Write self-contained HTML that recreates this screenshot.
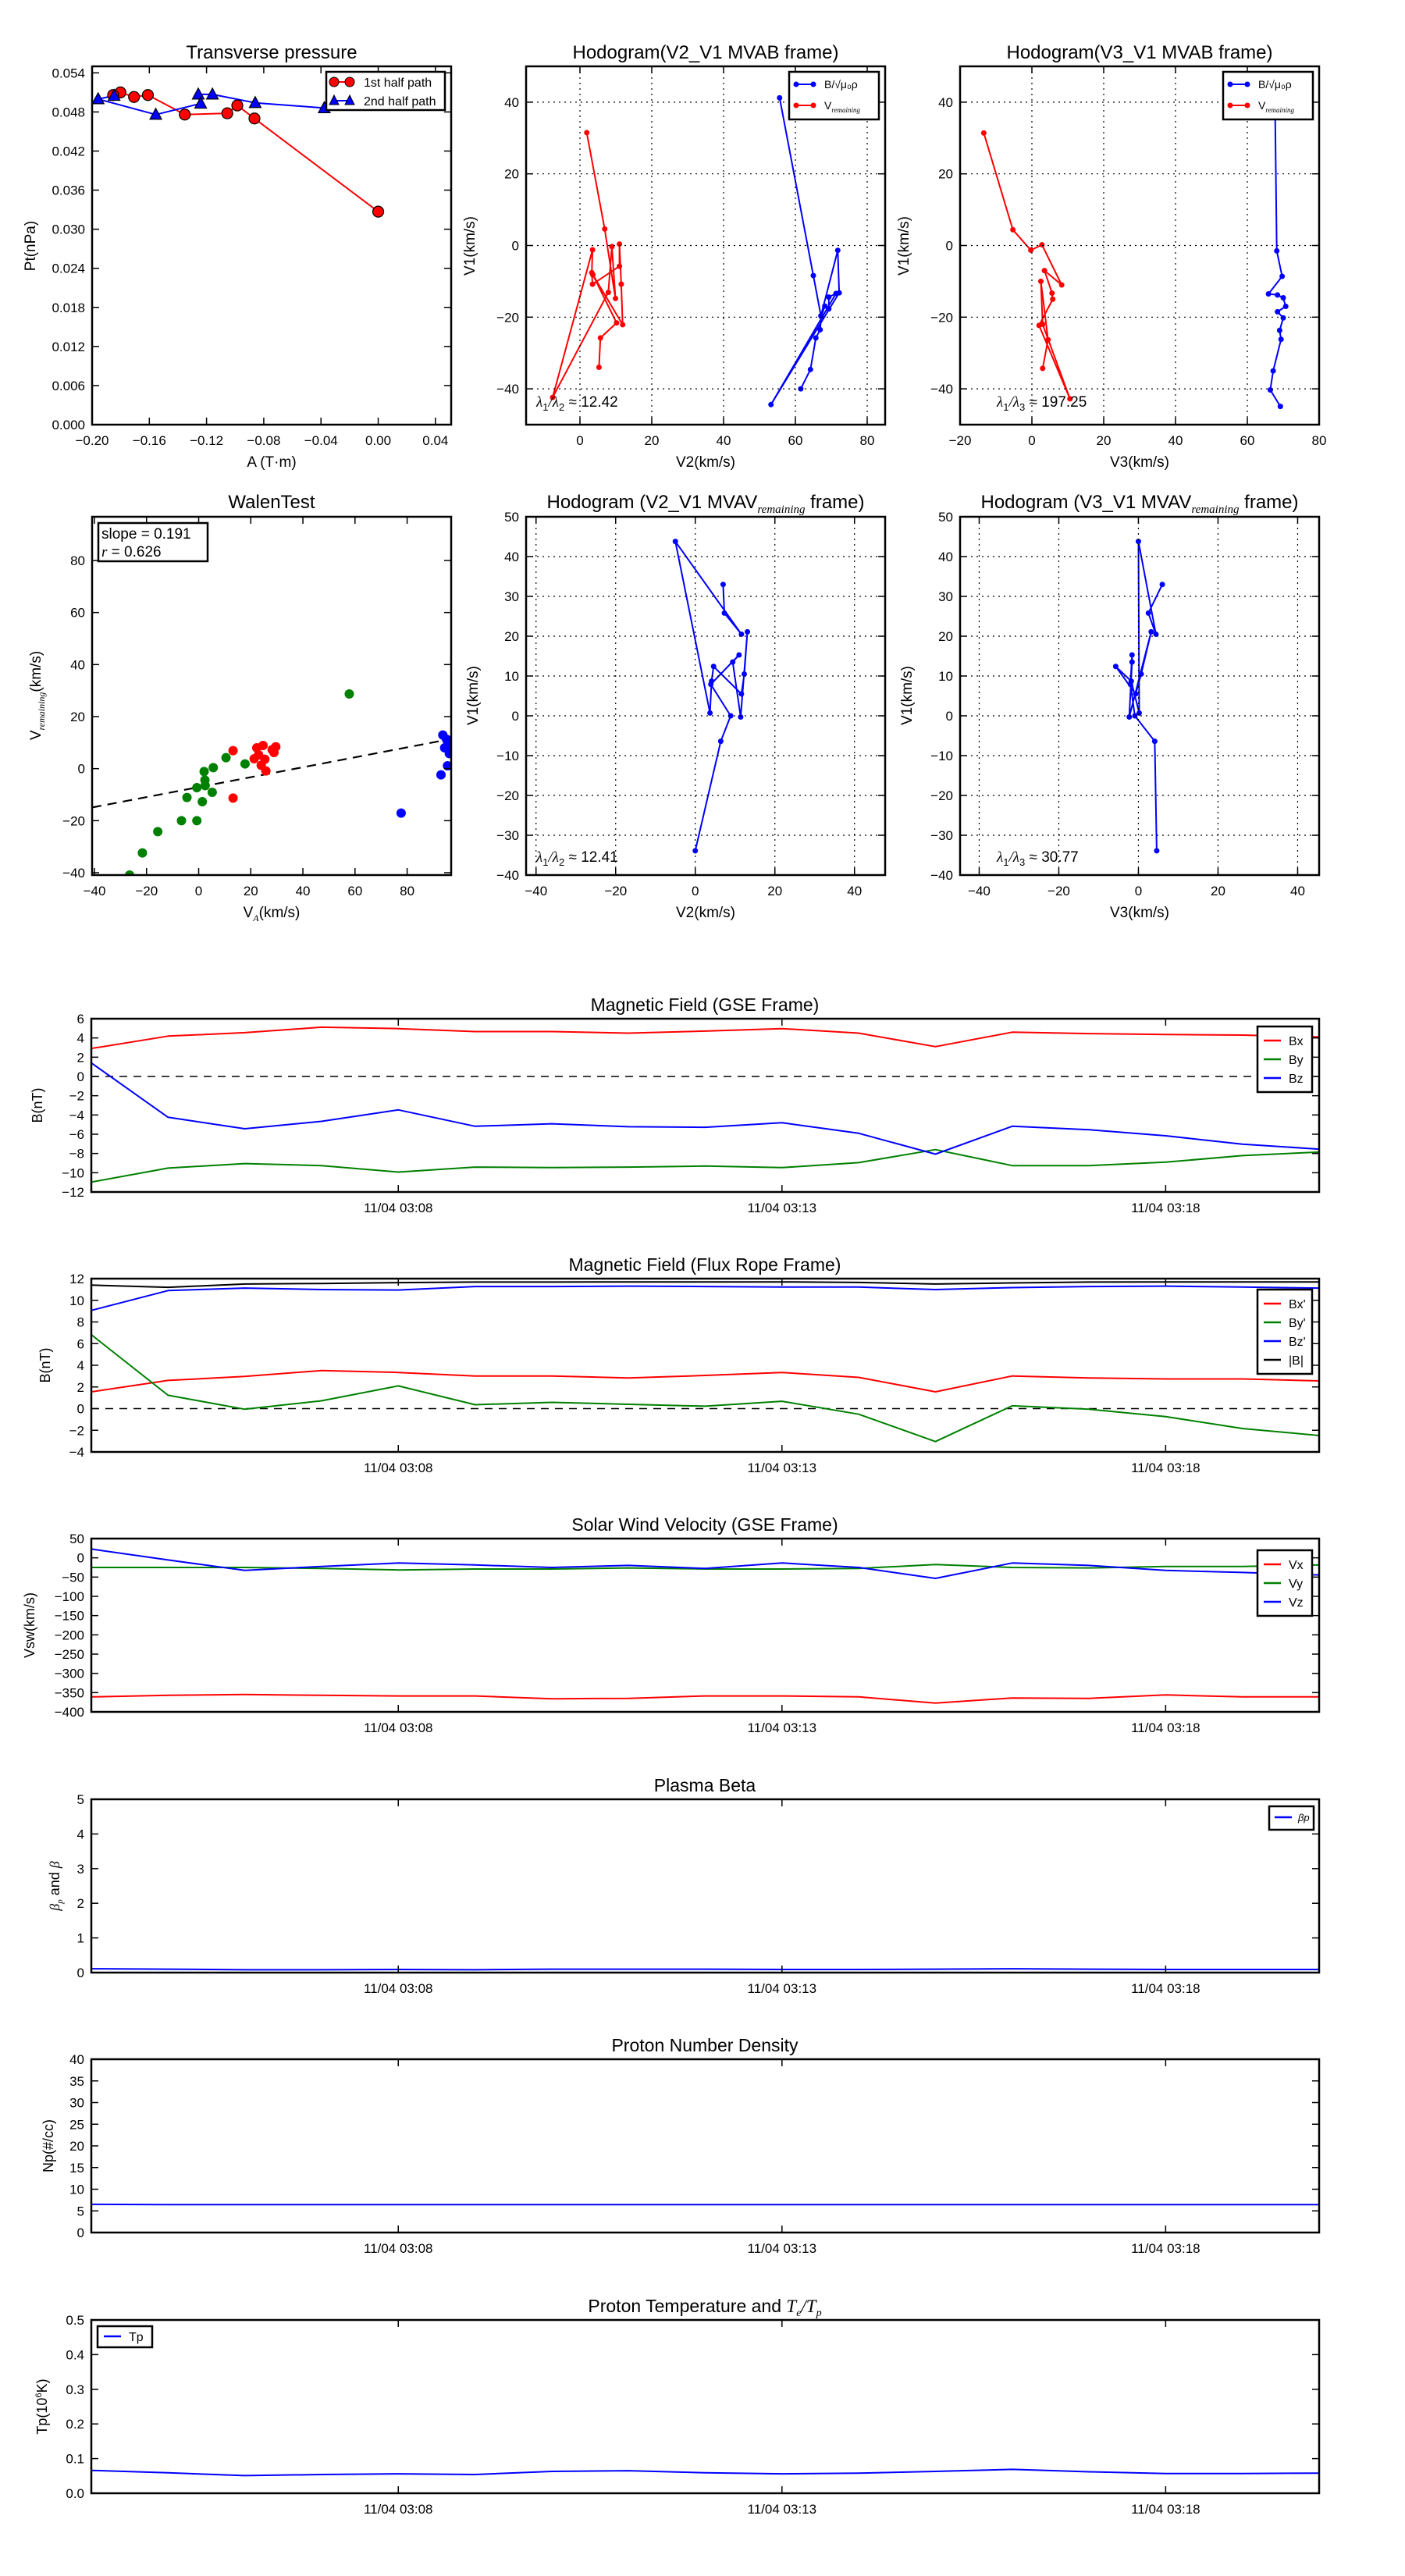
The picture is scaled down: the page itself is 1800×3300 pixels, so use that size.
<!DOCTYPE html>
<html>
<head>
<meta charset="utf-8">
<style>
html,body{margin:0;padding:0;background:#fff;}
svg{display:block;}
text{font-family:"Liberation Sans","DejaVu Sans",sans-serif;fill:#000;}
</style>
</head>
<body>
<svg id="fig" width="1800" height="3300" viewBox="0 0 1800 3300" xmlns="http://www.w3.org/2000/svg">
<rect x="0" y="0" width="1800" height="3300" fill="#fff"/>
</svg>
<script>
// ---------- Transverse pressure data ----------
const tpRedA  = [0, -0.0865, -0.0985, -0.1055, -0.1352, -0.161, -0.1707, -0.1802, -0.1853];
const tpRedPt = [0.0327, 0.0470, 0.0490, 0.0478, 0.0476, 0.0506, 0.0503, 0.0510, 0.0506];
const tpBlueA  = [-0.0377, -0.086, -0.1159, -0.1258, -0.1241, -0.1555, -0.1958, -0.1846];
const tpBluePt = [0.0486, 0.0494, 0.0507, 0.0507, 0.0493, 0.0476, 0.04998, 0.0505];
const tpXTicks = [-0.20, -0.16, -0.12, -0.08, -0.04, 0.00, 0.04];
const tpYTicks = [0, 0.006, 0.012, 0.018, 0.024, 0.030, 0.036, 0.042, 0.048, 0.054];

// ---------- Hodogram MVAB V2-V1 ----------
const h1RedV2 = [1.9, 6.9, 9.9, 8.9, 7.9, -7.6, 3.5, 3.3, 3.5, 11.0, 11.0, 11.5, 11.9, 3.6, 10.2, 5.7, 5.3];
const h1RedV1 = [31.5, 4.6, -14.8, -0.3, -13.1, -42.4, -1.2, -7.6, -10.8, -5.8, 0.4, -10.8, -22.1, -8.2, -21.6, -25.8, -34];
const h1BlueV2 = [55.6, 65.0, 67.1, 71.8, 72.2, 53.2, 71.3, 69.3, 69.3, 68.2, 67.2, 66.9, 65.7, 64.2, 61.5];
const h1BlueV1 = [41.2, -8.4, -19.6, -1.35, -13.2, -44.4, -13.4, -14.4, -17.7, -16.9, -19.8, -23.5, -25.8, -34.6, -40];
// ---------- Hodogram MVAB V3-V1 ----------
const h2RedV3 = [-13.4, -5.3, -0.3, 2.8, 8.3, 3.5, 5.6, 5.8, 2.0, 10.6, 3.0, 2.5, 4.5, 3.0];
const h2RedV1 = [31.4, 4.4, -1.3, 0.2, -11, -7, -13.3, -15, -22.3, -42.8, -22, -10, -26.3, -34.3];
const h2BlueV3 = [67.7, 68.2, 69.7, 65.9, 68.4, 70.0, 70.7, 68.4, 70.0, 69.0, 69.4, 67.2, 66.4, 69.2];
const h2BlueV1 = [41.2, -1.5, -8.6, -13.5, -13.8, -14.6, -17.0, -18.5, -20.2, -23.7, -26.2, -35.0, -40.3, -44.9];
const hXTicks1 = [0, 20, 40, 60, 80];
const hXTicks2 = [-20, 0, 20, 40, 60, 80];
const hYTicks1 = [-40, -20, 0, 20, 40];

// ---------- Walen test ----------
const wGreenVA = [57.8, 10.5, 5.6, 2.1, 2.4, -0.7, 5.2, -4.5, 1.4, 17.8, -6.6, -0.7, -15.7, -21.6, -26.5, 2.5];
const wGreenVr = [28.7, 4.2, 0.4, -1.1, -4.4, -7.3, -9.1, -11.1, -12.7, 1.8, -20, -20, -24.2, -32.4, -40.9, -6.5];
const wRedVA = [13.2, 13.2, 22.3, 24.7, 28.2, 29.6, 23.0, 25.4, 24.0, 25.8, 21.3, 28.9];
const wRedVr = [6.9, -11.3, 8.0, 8.9, 7.3, 8.4, 5.3, 3.6, 1.3, -0.9, 3.8, 6.2];
const wBlueVA = [93.7, 93.0, 95.5, 94.4, 95.5, 96.2, 95.1, 77.7];
const wBlueVr = [12.9, -2.4, 1.1, 8.0, 9.1, 5.8, 11.3, -17.1];
const wSlope = 0.191;
const wIntercept = -7.1;
const wXTicks = [-40, -20, 0, 20, 40, 60, 80];
const wYTicks = [-40, -20, 0, 20, 40, 60, 80];

// ---------- Hodogram MVAV ----------
const h3V2 = [7.0, 7.3, 11.6, -5.0, 3.7, 4.1, 4.6, 11.6, 12.3, 13.1, 11.4, 9.4, 11.0, 3.9, 8.9, 6.4, 0.0];
const h3V1 = [33.0, 25.8, 20.5, 43.8, 0.7, 8.7, 12.4, 5.5, 10.5, 21.1, -0.3, 13.5, 15.3, 7.9, 0.0, -6.4, -33.9];
const h4V3 = [6.0, 2.5, 4.4, 0.0, 0.2, -1.8, -5.7, -0.7, 0.7, 3.2, -2.3, -1.6, -1.6, -2.0, -0.9, 4.1, 4.6];
const h4V1 = [33.0, 25.8, 20.5, 43.8, 0.7, 8.7, 12.4, 5.5, 10.5, 21.1, -0.3, 13.5, 15.3, 7.9, 0.0, -6.4, -33.9];
const h34XTicks = [-40, -20, 0, 20, 40];
const h34YTicks = [-40, -30, -20, -10, 0, 10, 20, 30, 40, 50];

// ---------- Time series ----------
const timeTickIdx = [4, 9, 14];
const timeLabels = ['11/04 03:08', '11/04 03:13', '11/04 03:18'];
const bx = [2.9, 4.19, 4.55, 5.12, 4.97, 4.66, 4.66, 4.5, 4.71, 4.97, 4.5, 3.1, 4.6, 4.45, 4.35, 4.3, 4.1];
const by = [-10.97, -9.52, -9.05, -9.26, -9.93, -9.41, -9.47, -9.41, -9.31, -9.47, -8.95, -7.6, -9.26, -9.26, -8.9, -8.22, -7.86];
const bz = [1.4, -4.24, -5.43, -4.66, -3.47, -5.17, -4.91, -5.22, -5.28, -4.81, -5.9, -8.07, -5.17, -5.53, -6.16, -7.03, -7.55];
const bxp = [1.55, 2.6, 2.97, 3.52, 3.34, 3.01, 3.01, 2.83, 3.06, 3.34, 2.88, 1.55, 3.01, 2.83, 2.74, 2.74, 2.56];
const byp = [6.82, 1.23, -0.06, 0.72, 2.1, 0.36, 0.58, 0.4, 0.22, 0.68, -0.52, -3.04, 0.26, -0.06, -0.74, -1.84, -2.49];
const bzp = [9.07, 10.9, 11.13, 10.99, 10.95, 11.27, 11.27, 11.31, 11.27, 11.22, 11.22, 10.99, 11.17, 11.27, 11.31, 11.22, 11.13];
const btot = [11.4, 11.2, 11.5, 11.55, 11.63, 11.68, 11.68, 11.7, 11.7, 11.7, 11.65, 11.5, 11.6, 11.68, 11.7, 11.7, 11.7];
const vx = [-361, -357, -355, -357, -358.6, -358.6, -366, -365, -358.6, -358.6, -361, -377, -364, -365, -356, -361, -361];
const vy = [-25, -25, -25, -27.6, -31.5, -29, -29, -26.3, -29, -29, -27.6, -17.2, -25, -26.3, -22.4, -22.4, -18.5];
const vz = [22.8, -5.6, -32.8, -22.4, -13.4, -18.5, -25, -19.8, -27.6, -13.4, -25, -53.4, -13.4, -19.8, -32.8, -38, -44.4];
const betaP = [0.11, 0.10, 0.08, 0.08, 0.09, 0.08, 0.10, 0.10, 0.10, 0.09, 0.09, 0.10, 0.11, 0.10, 0.09, 0.09, 0.09];
const npDens = [6.5, 6.45, 6.45, 6.45, 6.45, 6.45, 6.45, 6.45, 6.45, 6.45, 6.45, 6.45, 6.45, 6.45, 6.45, 6.45, 6.45];
const tpTemp = [0.066, 0.059, 0.051, 0.054, 0.056, 0.054, 0.063, 0.065, 0.059, 0.056, 0.058, 0.063, 0.069, 0.062, 0.057, 0.057, 0.058];
const gseTicks = [-12, -10, -8, -6, -4, -2, 0, 2, 4, 6];
const fluxTicks = [-4, -2, 0, 2, 4, 6, 8, 10, 12];
const velTicks = [-400, -350, -300, -250, -200, -150, -100, -50, 0, 50];
const betaTicks = [0, 1, 2, 3, 4, 5];
const densTicks = [0, 5, 10, 15, 20, 25, 30, 35, 40];
const tempTicks = [0, 0.1, 0.2, 0.3, 0.4, 0.5];

const NS = 'http://www.w3.org/2000/svg';
const svg = document.getElementById('fig');
function el(tag, attrs, parent) {
  const e = document.createElementNS(NS, tag);
  for (const k in attrs) e.setAttribute(k, attrs[k]);
  (parent || svg).appendChild(e);
  return e;
}
function txt(s, attrs, parent) { const e = el('text', attrs, parent); e.textContent = s; return e; }
function fmt(v, d) { return v.toFixed(d).replace('-', '\u2212'); }

function axes(name, x0, y0, w, h, xr, yr) {
  const g = el('g', {});
  
  
  const cp = el('clipPath', { id: 'clip-' + name }, g);
  el('rect', { x: x0, y: y0, width: w, height: h }, cp);
  const sx = v => x0 + (v - xr[0]) / (xr[1] - xr[0]) * w;
  const sy = v => y0 + h - (v - yr[0]) / (yr[1] - yr[0]) * h;
  const plot = el('g', { 'clip-path': 'url(#clip-' + name + ')' }, g);
  return { g, plot, sx, sy, x0, y0, w, h };
}
function xTicks(ax, vals, labels, grid, fs) {
  vals.forEach((v, i) => {
    const x = ax.sx(v);
    if (grid) {
      const gl = el('line', { x1: x, x2: x, y1: ax.y0, y2: ax.y0 + ax.h, stroke: '#000', 'stroke-width': 1.2, 'stroke-dasharray': '2,5' }, ax.g);
      
      
    }
    el('line', { x1: x, x2: x, y1: ax.y0 + ax.h, y2: ax.y0 + ax.h - 9, stroke: '#000', 'stroke-width': 1.5 }, ax.g);
    el('line', { x1: x, x2: x, y1: ax.y0, y2: ax.y0 + 9, stroke: '#000', 'stroke-width': 1.5 }, ax.g);
    const t = txt(labels[i], { x: x, y: ax.y0 + ax.h + 26, 'text-anchor': 'middle', 'font-size': fs || 17 }, ax.g);
    
    
  });
}
function yTicks(ax, vals, labels, grid, fs) {
  vals.forEach((v, i) => {
    const y = ax.sy(v);
    if (grid) {
      const gl = el('line', { x1: ax.x0, x2: ax.x0 + ax.w, y1: y, y2: y, stroke: '#000', 'stroke-width': 1.2, 'stroke-dasharray': '2,5' }, ax.g);
      
      
    }
    el('line', { x1: ax.x0, x2: ax.x0 + 9, y1: y, y2: y, stroke: '#000', 'stroke-width': 1.5 }, ax.g);
    el('line', { x1: ax.x0 + ax.w, x2: ax.x0 + ax.w - 9, y1: y, y2: y, stroke: '#000', 'stroke-width': 1.5 }, ax.g);
    const t = txt(labels[i], { x: ax.x0 - 9, y: y + 6, 'text-anchor': 'end', 'font-size': fs || 17 }, ax.g);
    
    
  });
}
function frame(ax) {
  const r = el('rect', { x: ax.x0, y: ax.y0, width: ax.w, height: ax.h, fill: 'none', stroke: '#000', 'stroke-width': 2.5 }, ax.g);
  
  
}
function line(ax, xs, ys, color, width, dash) {
  const pts = xs.map((x, i) => ax.sx(x).toFixed(1) + ',' + ax.sy(ys[i]).toFixed(1)).join(' ');
  const a = { points: pts, fill: 'none', stroke: color, 'stroke-width': width || 2, 'stroke-linejoin': 'round' };
  if (dash) a['stroke-dasharray'] = dash;
  return el('polyline', a, ax.plot);
}
function title(s, x, y, fs) {
  const t = txt(s, { x: x, y: y, 'text-anchor': 'middle', 'font-size': fs || 24 });
  
  
  return t;
}
function ylabel(s, x, y, fs) {
  const t = txt(s, { x: x, y: y, 'text-anchor': 'middle', 'font-size': fs || 19, transform: 'rotate(-90 ' + x + ' ' + y + ')' });
  
  
  return t;
}
function xlabel(s, x, y, fs) {
  const t = txt(s, { x: x, y: y, 'text-anchor': 'middle', 'font-size': fs || 19 });
  
  
  return t;
}
function legendBox(x, y, w, h) {
  const r = el('rect', { x: x, y: y, width: w, height: h, fill: '#fff', stroke: '#000', 'stroke-width': 2.5 });
  
  
}

// ===== Transverse pressure =====
(function () {
  const ax = axes('transverse-pressure-axes', 118, 85, 460, 459, [-0.2, 0.051], [0, 0.055]);
  xTicks(ax, tpXTicks, tpXTicks.map(v => fmt(v, 2)));
  yTicks(ax, tpYTicks, tpYTicks.map(v => fmt(v, 3)));
  const l1 = line(ax, tpRedA, tpRedPt, '#f00', 2);
  
  
  const l2 = line(ax, tpBlueA, tpBluePt, '#00f', 2);
  
  
  tpRedA.forEach((a, i) => {
    const c = el('circle', { cx: ax.sx(a), cy: ax.sy(tpRedPt[i]), r: 7, fill: '#f00', stroke: '#000', 'stroke-width': 1.2 }, ax.plot);
    
    
  });
  tpBlueA.forEach((a, i) => {
    const x = ax.sx(a), y = ax.sy(tpBluePt[i]);
    const p = el('polygon', { points: `${x},${y - 8} ${x - 7.5},${y + 6} ${x + 7.5},${y + 6}`, fill: '#00f', stroke: '#000', 'stroke-width': 1.2 }, ax.plot);
    
    
  });
  frame(ax);
  title('Transverse pressure', 348, 75);
  ylabel('Pt(nPa)', 45, 315);
  xlabel('A (T\u00b7m)', 348, 598);
  legendBox(418, 92, 152, 49);
  el('line', { x1: 428, x2: 448, y1: 105, y2: 105, stroke: '#f00', 'stroke-width': 2 });
  el('circle', { cx: 428, cy: 105, r: 6, fill: '#f00', stroke: '#000', 'stroke-width': 1 });
  el('circle', { cx: 448, cy: 105, r: 6, fill: '#f00', stroke: '#000', 'stroke-width': 1 });
  const t1 = txt('1st half path', { x: 466, y: 111, 'font-size': 16 });
  
  
  el('line', { x1: 428, x2: 448, y1: 129, y2: 129, stroke: '#00f', 'stroke-width': 2 });
  el('polygon', { points: '428,122 422,134 434,134', fill: '#00f', stroke: '#000', 'stroke-width': 1 });
  el('polygon', { points: '448,122 442,134 454,134', fill: '#00f', stroke: '#000', 'stroke-width': 1 });
  const t2 = txt('2nd half path', { x: 466, y: 135, 'font-size': 16 });
  
  
})();

function ratioText(x, y, a, b, val) {
  const t = el('text', { x: x, y: y, 'font-size': 19 });
  
  
  const s1 = el('tspan', { 'font-family': '"Liberation Serif",serif', 'font-style': 'italic' }, t); s1.textContent = '\u03bb';
  const s2 = el('tspan', { 'font-size': 13, dy: 5 }, t); s2.textContent = a;
  const s3 = el('tspan', { dy: -5, 'font-family': '"Liberation Serif",serif', 'font-style': 'italic' }, t); s3.textContent = '/\u03bb';
  const s4 = el('tspan', { 'font-size': 13, dy: 5 }, t); s4.textContent = b;
  const s5 = el('tspan', { dy: -5 }, t); s5.textContent = ' \u2248 ' + val;
}
function pts(ax, xs, ys, color, r, name) {
  xs.forEach((x, i) => {
    const c = el('circle', { cx: ax.sx(x), cy: ax.sy(ys[i]), r: r, fill: color }, ax.plot);
    
    
  });
}
function hodoLegend(x0) {
  legendBox(x0, 92, 115, 61);
  el('line', { x1: x0 + 9, x2: x0 + 31, y1: 108, y2: 108, stroke: '#00f', 'stroke-width': 2 });
  el('circle', { cx: x0 + 9, cy: 108, r: 3.5, fill: '#00f' });
  el('circle', { cx: x0 + 31, cy: 108, r: 3.5, fill: '#00f' });
  const t1 = el('text', { x: x0 + 45, y: 113, 'font-size': 14 });
  
  
  t1.textContent = 'B/\u221a\u03bc\u2080\u03c1';
  el('line', { x1: x0 + 9, x2: x0 + 31, y1: 135, y2: 135, stroke: '#f00', 'stroke-width': 2 });
  el('circle', { cx: x0 + 9, cy: 135, r: 3.5, fill: '#f00' });
  el('circle', { cx: x0 + 31, cy: 135, r: 3.5, fill: '#f00' });
  const t2 = el('text', { x: x0 + 45, y: 140, 'font-size': 14 });
  
  
  const a = el('tspan', {}, t2); a.textContent = 'V';
  const b = el('tspan', { 'font-size': 9, dy: 4, 'font-style': 'italic', 'font-family': '"Liberation Serif",serif' }, t2); b.textContent = 'remaining';
}

// ===== Hodogram V2_V1 MVAB =====
(function () {
  const ax = axes('hodogram-v2-v1-mvab-axes', 674, 85, 460, 459, [-15, 85], [-50, 50]);
  xTicks(ax, hXTicks1, hXTicks1.map(v => fmt(v, 0)), true);
  yTicks(ax, hYTicks1, hYTicks1.map(v => fmt(v, 0)), true);
  const lr = line(ax, h1RedV2, h1RedV1, '#f00', 2);
  
  
  pts(ax, h1RedV2, h1RedV1, '#f00', 3.5, 'v-remaining-point');
  const lb = line(ax, h1BlueV2, h1BlueV1, '#00f', 2);
  
  
  pts(ax, h1BlueV2, h1BlueV1, '#00f', 3.5, 'alfven-point');
  frame(ax);
  title('Hodogram(V2_V1 MVAB frame)', 904, 75);
  ylabel('V1(km/s)', 608, 315);
  xlabel('V2(km/s)', 904, 598);
  ratioText(687, 521, '1', '2', '12.42');
  hodoLegend(1011);
})();

// ===== Hodogram V3_V1 MVAB =====
(function () {
  const ax = axes('hodogram-v3-v1-mvab-axes', 1230, 85, 460, 459, [-20, 80], [-50, 50]);
  xTicks(ax, hXTicks2, hXTicks2.map(v => fmt(v, 0)), true);
  yTicks(ax, hYTicks1, hYTicks1.map(v => fmt(v, 0)), true);
  const lr = line(ax, h2RedV3, h2RedV1, '#f00', 2);
  
  
  pts(ax, h2RedV3, h2RedV1, '#f00', 3.5, 'v-remaining-point');
  const lb = line(ax, h2BlueV3, h2BlueV1, '#00f', 2);
  
  
  pts(ax, h2BlueV3, h2BlueV1, '#00f', 3.5, 'alfven-point');
  frame(ax);
  title('Hodogram(V3_V1 MVAB frame)', 1460, 75);
  ylabel('V1(km/s)', 1164, 315);
  xlabel('V3(km/s)', 1460, 598);
  ratioText(1277, 521, '1', '3', '197.25');
  hodoLegend(1567);
})();

// ===== Walen test =====
(function () {
  const ax = axes('walen-test-axes', 118, 662, 460, 459, [-40.9, 96.9], [-40.9, 96.8]);
  xTicks(ax, wXTicks, wXTicks.map(v => fmt(v, 0)));
  yTicks(ax, wYTicks, wYTicks.map(v => fmt(v, 0)));
  const xr = [-40.9, 96.9];
  const fit = line(ax, xr, xr.map(v => wSlope * v + wIntercept), '#000', 2.2, '12,8');
  
  
  pts(ax, wGreenVA, wGreenVr, '#008000', 6, 'walen-point-green');
  pts(ax, wRedVA, wRedVr, '#f00', 6, 'walen-point-red');
  pts(ax, wBlueVA, wBlueVr, '#00f', 6, 'walen-point-blue');
  frame(ax);
  title('WalenTest', 348, 651);
  const yl = el('text', { x: 52, y: 891, 'text-anchor': 'middle', 'font-size': 19, transform: 'rotate(-90 52 891)' });
  
  
  const a = el('tspan', {}, yl); a.textContent = 'V';
  const b = el('tspan', { 'font-size': 12, dy: 5, 'font-style': 'italic', 'font-family': '"Liberation Serif",serif' }, yl); b.textContent = 'remaining';
  const c = el('tspan', { dy: -5 }, yl); c.textContent = '(km/s)';
  const xl = el('text', { x: 348, y: 1175, 'text-anchor': 'middle', 'font-size': 19 });
  
  
  const d = el('tspan', {}, xl); d.textContent = 'V';
  const e = el('tspan', { 'font-size': 12, dy: 5, 'font-style': 'italic', 'font-family': '"Liberation Serif",serif' }, xl); e.textContent = 'A';
  const f = el('tspan', { dy: -5 }, xl); f.textContent = '(km/s)';
  legendBox(126, 670, 140, 49);
  const s1 = txt('slope = 0.191', { x: 130, y: 690, 'font-size': 19 });
  
  
  const s2 = el('text', { x: 130, y: 713, 'font-size': 19 });
  
  
  const r1 = el('tspan', { 'font-style': 'italic', 'font-family': '"Liberation Serif",serif' }, s2); r1.textContent = 'r';
  const r2 = el('tspan', {}, s2); r2.textContent = ' = 0.626';
})();

function mvavTitle(x, y, s) {
  const t = el('text', { x: x, y: y, 'text-anchor': 'middle', 'font-size': 24 });
  
  
  const a = el('tspan', {}, t); a.textContent = s;
  const b = el('tspan', { 'font-size': 15, dy: 6, 'font-style': 'italic', 'font-family': '"Liberation Serif",serif' }, t); b.textContent = 'remaining';
  const c = el('tspan', { dy: -6 }, t); c.textContent = ' frame)';
}
// ===== Hodogram V2_V1 MVAV =====
(function () {
  const ax = axes('hodogram-v2-v1-mvav-axes', 674, 662, 460, 459, [-42.5, 47.7], [-40, 50]);
  xTicks(ax, h34XTicks, h34XTicks.map(v => fmt(v, 0)), true);
  yTicks(ax, h34YTicks, h34YTicks.map(v => fmt(v, 0)), true);
  const l = line(ax, h3V2, h3V1, '#00f', 2);
  
  
  pts(ax, h3V2, h3V1, '#00f', 3.5, 'hodogram-point');
  frame(ax);
  mvavTitle(904, 651, 'Hodogram (V2_V1 MVAV');
  ylabel('V1(km/s)', 612, 891);
  xlabel('V2(km/s)', 904, 1175);
  ratioText(687, 1104, '1', '2', '12.41');
})();
// ===== Hodogram V3_V1 MVAV =====
(function () {
  const ax = axes('hodogram-v3-v1-mvav-axes', 1230, 662, 460, 459, [-44.8, 45.4], [-40, 50]);
  xTicks(ax, h34XTicks, h34XTicks.map(v => fmt(v, 0)), true);
  yTicks(ax, h34YTicks, h34YTicks.map(v => fmt(v, 0)), true);
  const l = line(ax, h4V3, h4V1, '#00f', 2);
  
  
  pts(ax, h4V3, h4V1, '#00f', 3.5, 'hodogram-point');
  frame(ax);
  mvavTitle(1460, 651, 'Hodogram (V3_V1 MVAV');
  ylabel('V1(km/s)', 1168, 891);
  xlabel('V3(km/s)', 1460, 1175);
  ratioText(1277, 1104, '1', '3', '30.77');
})();

// ===== Time series panels =====
function tsPanel(name, top, yr, ticks, tickFmt) {
  const n = bx.length;
  const ax = axes(name, 117, top, 1573, 222, [0, n - 1], yr);
  xTicks(ax, timeTickIdx, timeLabels, false, 17);
  yTicks(ax, ticks, ticks.map(tickFmt), false, 17);
  return ax;
}
function series(ax, arr, color, name) {
  const l = line(ax, arr.map((v, i) => i), arr, color, 2);
  
  
}
function zeroLine(ax) {
  const z = el('line', { x1: ax.x0, x2: ax.x0 + ax.w, y1: ax.sy(0), y2: ax.sy(0), stroke: '#000', 'stroke-width': 1.5, 'stroke-dasharray': '10,8' }, ax.plot);
  
  
}
function tsLegend(x, y, entries) {
  legendBox(x, y, 70, 12 + entries.length * 24);
  entries.forEach((e, i) => {
    const yy = y + 18 + i * 24;
    el('line', { x1: x + 8, x2: x + 30, y1: yy, y2: yy, stroke: e[1], 'stroke-width': 2.5 });
    const t = txt(e[0], { x: x + 40, y: yy + 6, 'font-size': 16 });
    
    
  });
}
const f0 = v => fmt(v, 0);

(function () {
  const ax = tsPanel('magnetic-field-gse-axes', 1305, [-12, 6], gseTicks, f0);
  zeroLine(ax);
  series(ax, bx, '#f00', 'bx-line');
  series(ax, by, '#008000', 'by-line');
  series(ax, bz, '#00f', 'bz-line');
  frame(ax);
  title('Magnetic Field (GSE Frame)', 903, 1295, 23);
  ylabel('B(nT)', 54, 1416, 18);
  tsLegend(1611, 1315, [['Bx', '#f00'], ['By', '#008000'], ['Bz', '#00f']]);
})();
(function () {
  const ax = tsPanel('magnetic-field-flux-rope-axes', 1638, [-4, 12], fluxTicks, f0);
  zeroLine(ax);
  series(ax, btot, '#000', 'b-magnitude-line');
  series(ax, bxp, '#f00', 'bx-prime-line');
  series(ax, byp, '#008000', 'by-prime-line');
  series(ax, bzp, '#00f', 'bz-prime-line');
  frame(ax);
  title('Magnetic Field (Flux Rope Frame)', 903, 1628, 23);
  ylabel('B(nT)', 64, 1749, 18);
  tsLegend(1611, 1652, [["Bx'", '#f00'], ["By'", '#008000'], ["Bz'", '#00f'], ['|B|', '#000']]);
})();
(function () {
  const ax = tsPanel('solar-wind-velocity-axes', 1971, [-400, 50], velTicks, f0);
  series(ax, vx, '#f00', 'vx-line');
  series(ax, vy, '#008000', 'vy-line');
  series(ax, vz, '#00f', 'vz-line');
  frame(ax);
  title('Solar Wind Velocity (GSE Frame)', 903, 1961, 23);
  ylabel('Vsw(km/s)', 44, 2082, 18);
  tsLegend(1611, 1986, [['Vx', '#f00'], ['Vy', '#008000'], ['Vz', '#00f']]);
})();
(function () {
  const ax = tsPanel('plasma-beta-axes', 2305, [0, 5], betaTicks, f0);
  series(ax, betaP, '#00f', 'beta-p-line');
  frame(ax);
  title('Plasma Beta', 903, 2295, 23);
  const yl = el('text', { x: 76, y: 2416, 'text-anchor': 'middle', 'font-size': 18, transform: 'rotate(-90 76 2416)' });
  
  
  const a = el('tspan', { 'font-style': 'italic', 'font-family': '"Liberation Serif",serif' }, yl); a.textContent = '\u03b2';
  const b = el('tspan', { 'font-size': 11, dy: 4, 'font-style': 'italic', 'font-family': '"Liberation Serif",serif' }, yl); b.textContent = 'p';
  const c = el('tspan', { dy: -4 }, yl); c.textContent = ' and ';
  const d = el('tspan', { 'font-style': 'italic', 'font-family': '"Liberation Serif",serif' }, yl); d.textContent = '\u03b2';
  legendBox(1626, 2314, 57, 30);
  el('line', { x1: 1633, x2: 1655, y1: 2328, y2: 2328, stroke: '#00f', 'stroke-width': 2.5 });
  const t = el('text', { x: 1663, y: 2333, 'font-size': 13, 'font-style': 'italic', 'font-family': '"Liberation Serif",serif' });
  
  
  t.textContent = '\u03b2p';
})();
(function () {
  const ax = tsPanel('proton-density-axes', 2638, [0, 40], densTicks, f0);
  series(ax, npDens, '#00f', 'density-line');
  frame(ax);
  title('Proton Number Density', 903, 2628, 23);
  ylabel('Np(#/cc)', 68, 2749, 18);
})();
(function () {
  const ax = tsPanel('proton-temperature-axes', 2972, [0, 0.5], tempTicks, v => fmt(v, 1));
  series(ax, tpTemp, '#00f', 'tp-line');
  frame(ax);
  const t = el('text', { x: 903, y: 2962, 'text-anchor': 'middle', 'font-size': 23 });
  
  
  const a = el('tspan', {}, t); a.textContent = 'Proton Temperature and ';
  const b = el('tspan', { 'font-style': 'italic', 'font-family': '"Liberation Serif",serif' }, t); b.textContent = 'T';
  const c = el('tspan', { 'font-size': 14, dy: 5, 'font-style': 'italic', 'font-family': '"Liberation Serif",serif' }, t); c.textContent = 'e';
  const d = el('tspan', { dy: -5, 'font-style': 'italic', 'font-family': '"Liberation Serif",serif' }, t); d.textContent = '/T';
  const e = el('tspan', { 'font-size': 14, dy: 5, 'font-style': 'italic', 'font-family': '"Liberation Serif",serif' }, t); e.textContent = 'p';
  const yl = el('text', { x: 60, y: 3083, 'text-anchor': 'middle', 'font-size': 18, transform: 'rotate(-90 60 3083)' });
  
  
  const p = el('tspan', {}, yl); p.textContent = 'Tp(10';
  const q = el('tspan', { 'font-size': 11, dy: -7 }, yl); q.textContent = '6';
  const r = el('tspan', { dy: 7 }, yl); r.textContent = 'K)';
  legendBox(125, 2980, 70, 27);
  el('line', { x1: 133, x2: 155, y1: 2993, y2: 2993, stroke: '#00f', 'stroke-width': 2.5 });
  const lt = txt('Tp', { x: 165, y: 2999, 'font-size': 16 });
  
  
})();
</script>
</body>
</html>
